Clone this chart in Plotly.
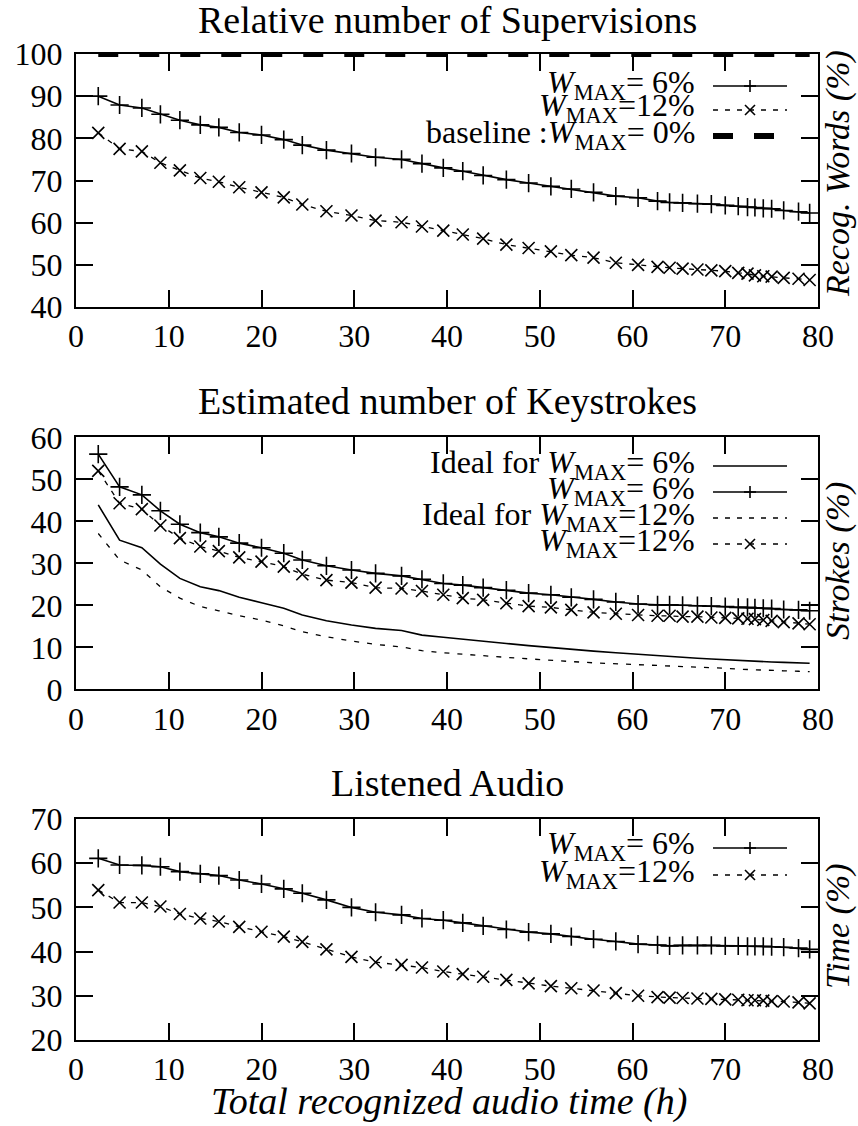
import plotly.graph_objects as go

# ---------------- data ----------------
hours = [2.4, 4.7, 7.1, 9.1, 11.2, 13.4, 15.4, 17.6, 20.0, 22.4, 24.4, 27.0, 29.7, 32.3,
         35.1, 37.3, 39.6, 41.7, 43.9, 46.4, 48.8, 51.2, 53.4, 55.8, 58.2, 60.6, 62.7,
         64.0, 65.4, 67.0, 68.5, 70.0, 71.4, 72.4, 73.2, 74.1, 75.0, 76.3, 77.9, 79.1]

sup_w6 = [90.0, 87.9, 87.2, 85.7, 84.3, 83.2, 82.6, 81.4, 80.8, 79.7, 78.4, 77.2, 76.4, 75.5,
          75.0, 74.0, 73.0, 72.2, 71.2, 70.2, 69.4, 68.6, 68.0, 67.2, 66.3, 65.9, 65.1,
          64.8, 64.7, 64.5, 64.4, 64.1, 63.9, 63.7, 63.6, 63.4, 63.3, 62.9, 62.6, 62.3]
sup_w12 = [81.3, 77.5, 76.9, 74.2, 72.4, 70.6, 69.7, 68.4, 67.2, 66.0, 64.3, 62.7, 61.7, 60.5,
           60.1, 59.1, 58.1, 57.2, 56.2, 54.8, 54.0, 53.2, 52.3, 51.7, 50.5, 50.0, 49.5,
           49.3, 49.1, 48.9, 48.7, 48.5, 48.1, 47.9, 47.5, 47.3, 47.2, 46.9, 46.7, 46.4]
sup_base = [100.0] * len(hours)

key_ideal6 = [43.9, 35.5, 33.7, 29.8, 26.4, 24.4, 23.5, 21.9, 20.6, 19.3, 17.7, 16.3, 15.3, 14.5,
              14.0, 12.9, 12.4, 11.9, 11.4, 10.9, 10.4, 9.9, 9.5, 9.1, 8.7, 8.3, 8.0,
              7.8, 7.6, 7.4, 7.2, 7.0, 6.9, 6.8, 6.7, 6.6, 6.5, 6.4, 6.3, 6.2]
key_w6 = [56.0, 48.2, 46.3, 42.5, 39.3, 37.3, 36.3, 34.8, 33.7, 32.4, 30.8, 29.4, 28.4, 27.6,
          27.0, 26.2, 25.2, 24.8, 24.2, 23.6, 22.9, 22.5, 21.9, 21.4, 20.8, 20.3, 20.1,
          20.1, 20.0, 19.9, 19.8, 19.7, 19.5, 19.5, 19.4, 19.3, 19.2, 19.0, 18.9, 18.7]
key_ideal12 = [37.1, 30.8, 28.4, 24.4, 21.7, 19.7, 18.7, 17.5, 16.5, 15.1, 13.7, 12.5, 11.5, 10.7,
               10.1, 9.2, 8.7, 8.3, 8.0, 7.6, 7.2, 6.9, 6.6, 6.3, 6.1, 5.9, 5.6,
               5.5, 5.4, 5.2, 5.1, 5.0, 4.8, 4.7, 4.6, 4.5, 4.5, 4.4, 4.3, 4.2]
key_w12 = [52.0, 44.3, 42.9, 39.0, 36.0, 34.0, 32.9, 31.4, 30.4, 29.2, 27.4, 26.0, 25.4, 24.2,
           24.0, 23.4, 22.5, 21.7, 21.3, 20.5, 19.8, 19.5, 18.9, 18.3, 18.0, 17.7, 17.5,
           17.5, 17.3, 17.3, 17.1, 17.0, 16.9, 16.8, 16.7, 16.5, 16.3, 16.0, 15.7, 15.5]

aud_w6 = [61.1, 59.6, 59.5, 59.2, 58.1, 57.6, 57.2, 56.2, 55.3, 54.2, 53.2, 51.7, 50.0, 48.9,
          48.3, 47.5, 47.1, 46.5, 45.8, 45.0, 44.4, 44.0, 43.4, 42.8, 42.3, 41.7, 41.5,
          41.3, 41.4, 41.4, 41.4, 41.3, 41.3, 41.2, 41.2, 41.2, 41.1, 41.0, 40.8, 40.5]
aud_w12 = [53.9, 51.1, 51.1, 50.2, 48.5, 47.5, 46.8, 45.6, 44.5, 43.4, 42.2, 40.5, 38.8, 37.6,
           37.0, 36.4, 35.5, 34.9, 34.3, 33.6, 32.8, 32.2, 31.7, 31.2, 30.6, 30.0, 29.7,
           29.6, 29.5, 29.4, 29.3, 29.2, 29.1, 29.0, 29.0, 28.9, 28.8, 28.7, 28.5, 28.3]

titles = ["Relative number of Supervisions", "Estimated number of Keystrokes", "Listened Audio"]
right_labels = ["Recog. Words (%)", "Strokes (%)", "Time (%)"]
x_title = "Total recognized audio time (h)"
x_ticks = [0, 10, 20, 30, 40, 50, 60, 70, 80]
y_ranges = [(40, 100), (0, 60), (20, 70)]

# ---------------- layout geometry (pixels) ----------------
W, H = 858, 1126
PL, PR, PT, PB = 76, 818, 54, 1040


def px(xp):
    return (xp - PL) / (PR - PL)


def py(yp):
    return (PB - yp) / (PB - PT)


FONT = "Liberation Serif"
BLACK = "black"

fig = go.Figure()

doms = [(py(307), 1.0), (py(689.3), py(437.3)), (0.0, py(819))]
ax_names = [("x", "y"), ("x2", "y2"), ("x3", "y3")]

s_w6 = dict(mode="lines+markers", line=dict(color=BLACK, width=1.6),
            marker=dict(symbol="cross-thin-open", size=13, line=dict(color=BLACK, width=1.6)))
s_w12 = dict(mode="lines+markers", line=dict(color=BLACK, width=1.3, dash="5px,7px"),
             marker=dict(symbol="x-thin-open", size=12, line=dict(color=BLACK, width=1.6)))

# top
fig.add_trace(go.Scatter(x=hours, y=sup_w6, xaxis="x", yaxis="y", **s_w6))
fig.add_trace(go.Scatter(x=hours, y=sup_w12, xaxis="x", yaxis="y", **s_w12))
fig.add_trace(go.Scatter(x=hours, y=sup_base, xaxis="x", yaxis="y", mode="lines",
                         line=dict(color=BLACK, width=6, dash="20px,21px")))
# middle
fig.add_trace(go.Scatter(x=hours, y=key_ideal6, xaxis="x2", yaxis="y2", mode="lines",
                         line=dict(color=BLACK, width=1.6)))
fig.add_trace(go.Scatter(x=hours, y=key_w6, xaxis="x2", yaxis="y2", **s_w6))
fig.add_trace(go.Scatter(x=hours, y=key_ideal12, xaxis="x2", yaxis="y2", mode="lines",
                         line=dict(color=BLACK, width=1.3, dash="5px,8px")))
fig.add_trace(go.Scatter(x=hours, y=key_w12, xaxis="x2", yaxis="y2", **s_w12))
# bottom
fig.add_trace(go.Scatter(x=hours, y=aud_w6, xaxis="x3", yaxis="y3", **s_w6))
fig.add_trace(go.Scatter(x=hours, y=aud_w12, xaxis="x3", yaxis="y3", **s_w12))

axis_common = dict(showline=True, linecolor=BLACK, linewidth=2, mirror="allticks",
                   ticks="inside", ticklen=17, tickwidth=1.6, tickcolor=BLACK,
                   showgrid=False, zeroline=False,
                   tickfont=dict(family=FONT, size=32, color=BLACK))

layout = dict(width=W, height=H, plot_bgcolor="white", paper_bgcolor="white",
              showlegend=False,
              margin=dict(l=PL, r=W - PR, t=PT, b=H - PB),
              font=dict(family=FONT, color=BLACK))
for i, ((xn, yn), dom, yr) in enumerate(zip(ax_names, doms, y_ranges)):
    xk = "xaxis" if i == 0 else f"xaxis{i+1}"
    yk = "yaxis" if i == 0 else f"yaxis{i+1}"
    layout[xk] = dict(axis_common, domain=[0, 1], anchor=yn, range=[0, 80],
                      tickvals=x_ticks, ticklabelstandoff=0)
    layout[yk] = dict(axis_common, domain=list(dom), anchor=xn, range=list(yr),
                      dtick=10, ticklabelstandoff=5)
fig.update_layout(**layout)

ann = []
for t, yp in zip(titles, [20, 401, 783]):
    ann.append(dict(text=t, x=px(447), y=py(yp), xref="paper", yref="paper",
                    xanchor="center", yanchor="middle", showarrow=False,
                    font=dict(family=FONT, size=38, color=BLACK)))
for t, yp in zip(right_labels, [174, 561, 926]):
    ann.append(dict(text=f"<i>{t}</i>", x=px(838), y=py(yp), xref="paper", yref="paper",
                    xanchor="center", yanchor="middle", textangle=-90, showarrow=False,
                    font=dict(family=FONT, size=34, color=BLACK)))
ann.append(dict(text=f"<i>{x_title}</i>", x=px(449), y=py(1101), xref="paper", yref="paper",
                xanchor="center", yanchor="middle", showarrow=False,
                font=dict(family=FONT, size=38, color=BLACK)))

WM = "<i>W</i><sub>MAX</sub>"
legends = [
    [(WM + "= 6%", 86, "w6"), (WM + "=12%", 110, "w12"), ("baseline :" + WM + "= 0%", 136, "base")],
    [("Ideal for " + WM + "= 6%", 466, "ideal6"), (WM + "= 6%", 492, "w6"),
     ("Ideal for " + WM + "=12%", 518, "ideal12"), (WM + "=12%", 544, "w12")],
    [(WM + "= 6%", 848, "w6"), (WM + "=12%", 875, "w12")],
]
shapes = []
LX0, LX1, LXM = 713, 787, 750
for grp in legends:
    for text, yp, kind in grp:
        ann.append(dict(text=text, x=px(697), y=py(yp - 2), xref="paper", yref="paper",
                        xanchor="right", yanchor="middle", showarrow=False,
                        font=dict(family=FONT, size=32, color=BLACK)))
        if kind in ("w6", "ideal6"):
            ln = dict(color=BLACK, width=1.6)
        elif kind in ("w12", "ideal12"):
            ln = dict(color=BLACK, width=1.3, dash="5px,7px")
        else:
            ln = dict(color=BLACK, width=6, dash="20px,21px")
        shapes.append(dict(type="line", xref="paper", yref="paper",
                           x0=px(LX0), x1=px(LX1), y0=py(yp), y1=py(yp), line=ln))
        if kind == "w6":
            for dx0, dy0, dx1, dy1 in [(-6, 0, 6, 0), (0, -6, 0, 6)]:
                shapes.append(dict(type="line", xref="paper", yref="paper",
                                   x0=px(LXM + dx0), x1=px(LXM + dx1),
                                   y0=py(yp + dy0), y1=py(yp + dy1),
                                   line=dict(color=BLACK, width=1.6)))
        elif kind == "w12":
            for dx0, dy0, dx1, dy1 in [(-5, -5, 5, 5), (-5, 5, 5, -5)]:
                shapes.append(dict(type="line", xref="paper", yref="paper",
                                   x0=px(LXM + dx0), x1=px(LXM + dx1),
                                   y0=py(yp + dy0), y1=py(yp + dy1),
                                   line=dict(color=BLACK, width=1.6)))

fig.update_layout(annotations=ann, shapes=shapes)
fig.write_html("out.html", config={"displayModeBar": False},
               post_script="document.body.style.margin='0';")
